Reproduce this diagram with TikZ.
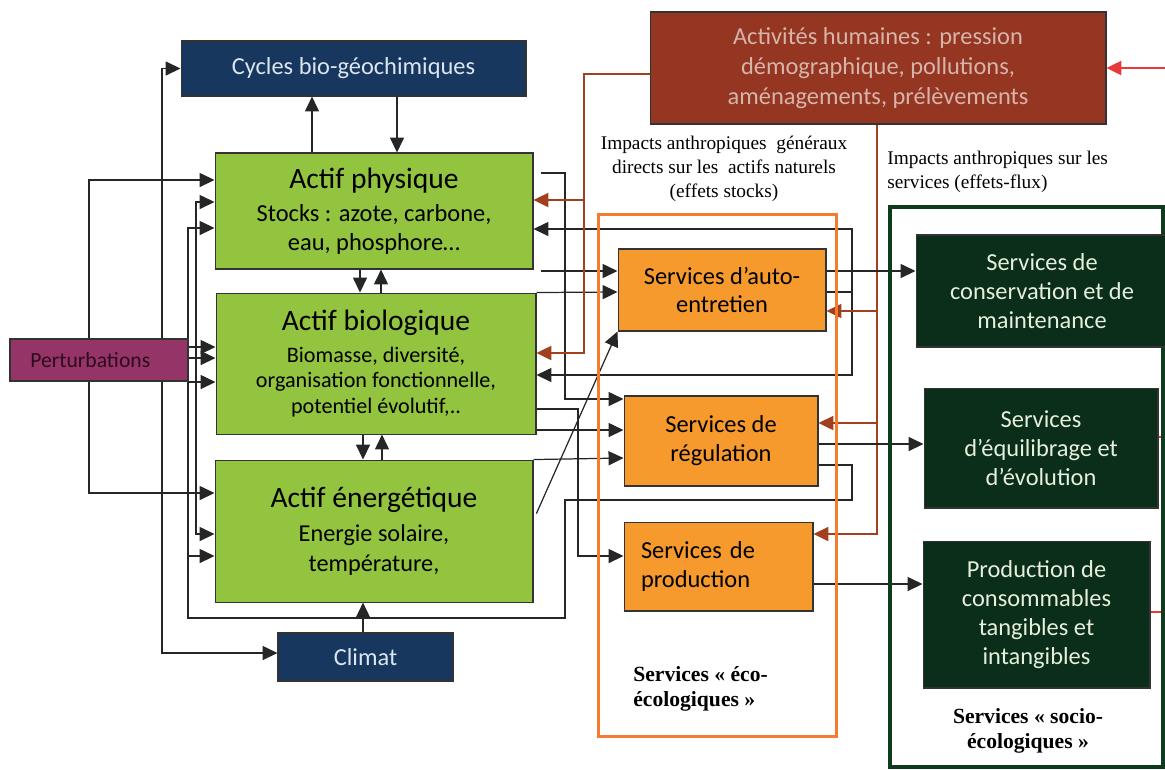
\documentclass[tikz,border=0pt]{standalone}
\usepackage{fontspec}
\setmainfont{Liberation Serif}
\newfontfamily\calib{Carlito}
\usetikzlibrary{positioning,arrows.meta,backgrounds}

\definecolor{cyclesblue}{HTML}{17375E}
\definecolor{lighttext}{HTML}{DCE6F2}
\definecolor{actifgreen}{HTML}{92C43F}
\definecolor{pertpurple}{HTML}{953567}
\definecolor{perttext}{HTML}{2E0A1D}
\definecolor{humanbrown}{HTML}{943621}
\definecolor{humantext}{HTML}{D6B4AA}
\definecolor{servorange}{HTML}{F79A2E}
\definecolor{ecoorange}{HTML}{F47B30}
\definecolor{sociogreen}{HTML}{0A2E19}
\definecolor{socioframe}{HTML}{0E3A1D}
\definecolor{sociotext}{HTML}{E6EEDC}
\definecolor{impactbrown}{HTML}{A0401F}
\definecolor{inputred}{HTML}{E8393A}

\newcommand{\bodysize}{\fontsize{13.9}{16.4}\selectfont}
\newcommand{\titlesize}{\fontsize{16.8}{16.4}\selectfont}

\tikzset{
	box/.style={draw=black!80, line width=0.6pt, inner sep=0pt, align=center, font=\calib\bodysize},
	actif/.style={box, fill=actifgreen},
	geobox/.style={box, fill=cyclesblue, text=lighttext},
	service/.style={box, fill=servorange},
	socio/.style={box, fill=sociogreen, text=sociotext},
	wire/.style={draw=black!85, line width=0.7pt},
	link/.style={wire, -{Triangle[length=8.5pt,width=8pt]}},
	impact/.style={draw=impactbrown, line width=1.2pt, -{Triangle[length=8.5pt,width=8pt]}},
	note/.style={inner sep=0pt, align=center, font=\fontsize{11}{13.6}\selectfont},
	grouplabel/.style={inner sep=0pt, align=left, font=\fontsize{12.3}{14.2}\selectfont\bfseries},
}

\begin{document}
\begin{tikzpicture}[x=0.02cm, y=-0.02cm]
	\useasboundingbox (0,0) rectangle (1165,769);

	\node[draw=ecoorange, line width=1.7pt, minimum width=4.78cm, minimum height=10.46cm] (eco) at (717.5,475.5) {};
	\node[draw=socioframe, line width=2.3pt, minimum width=5.46cm, minimum height=11.2cm] (sociofr) at (1026.5,487) {};

	\node[actif, minimum width=6.36cm, minimum height=2.32cm] (phys) at (374,211)
		{{\titlesize Actif physique}\\[2.3pt]Stocks : azote, carbone,\\eau, phosphore…};
	\node[actif, minimum width=6.4cm, minimum height=2.82cm, below=0.46cm of phys, xshift=0.04cm,
		font=\calib\fontsize{12.6}{14.7}\selectfont] (bio)
		{{\titlesize Actif biologique}\\[3.4pt]Biomasse, diversité,\\organisation fonctionnelle,\\potentiel évolutif,..};
	\node[actif, minimum width=6.36cm, minimum height=2.84cm, below=0.5cm of bio, xshift=-0.04cm,
		font=\calib\fontsize{13.8}{17}\selectfont] (ener)
		{{\titlesize Actif énergétique}\\[2.3pt]Energie solaire,\\température,};
	\node[geobox, minimum width=6.9cm, minimum height=1.1cm] (cycles) at (353.5,68.5) {Cycles bio-géochimiques};
	\node[geobox, minimum width=3.5cm, minimum height=0.96cm] (climat) at (365.5,657) {Climat};
	\node[box, fill=pertpurple, text=perttext, minimum width=3.56cm, minimum height=0.84cm,
		font=\calib\fontsize{12.3}{14}\selectfont] (pert) at (99,360) {Perturbations\hspace*{0.35cm}};
	\node[box, fill=humanbrown, text=humantext, minimum width=9.12cm, minimum height=2.24cm,
		font=\calib\fontsize{13.9}{17}\selectfont] (human) at (878,68)
		{Activités humaines : pression\\démographique, pollutions,\\aménagements, prélèvements};

	\node[service, minimum width=4.16cm, minimum height=1.64cm] (auto) at (722,290) {Services d’auto-\\entretien};
	\node[service, minimum width=3.88cm, minimum height=1.8cm] (regul) at (721,441) {Services de\\régulation};
	\node[service, minimum width=3.78cm, minimum height=1.78cm, text width=3.1cm, align=left] (prod) at (718.5,566.5) {Services de\\production};

	\node[socio, minimum width=5.04cm, minimum height=2.24cm] (conserv) at (1042,291) {Services de\\conservation et de\\maintenance};
	\node[socio, minimum width=4.68cm, minimum height=2.4cm] (equil) at (1041,448) {Services\\d’équilibrage et\\d’évolution};
	\node[socio, minimum width=4.54cm, minimum height=2.94cm] (conso) at (1036.5,614.5) {Production de\\consommables\\tangibles et\\intangibles};

	\node[note] (impgen) at (724,169) {Impacts anthropiques~~généraux\\directs sur les~~actifs naturels\\(effets stocks)};
	\node[note, align=left, anchor=west] (impserv) at (887,172) {Impacts anthropiques sur les\\services (effets-flux)};
	\node[grouplabel, anchor=west] (ecolabel) at (633,689) {Services « éco-\\écologiques »};
	\node[grouplabel, align=center] (sociolabel) at (1028,731) {Services « socio-\\écologiques »};

	\coordinate (pertbus) at (196,358);
	\coordinate (retour) at (188,618);
	\coordinate (autobus) at (852,292);
	\coordinate (humanbus) at (877,124);
	\coordinate (extin) at (1165,68);

	\begin{scope}[on background layer]
		\draw[link] (pert.north -| 89,0) |- (phys.west |- 0,180);
		\draw[link] (pert.south -| 89,0) |- (ener.west |- 0,493);
		\draw[link] (pert.north -| 162,0) |- (cycles.west);
		\draw[link] (pert.south -| 162,0) |- (climat.west |- 0,653);
		\draw[link] (pert.east |- 0,347) -- (bio.west |- 0,347);
		\draw[link] (pert.east |- pertbus) -- (bio.west |- pertbus);
		\draw[link] (pertbus) |- (phys.west |- 0,202);
		\draw[link] (pertbus) |- (ener.west |- 0,534);
		\draw[link] (regul.east |- 0,465) -| (852,500) -| (565,618) -- (retour) |- (phys.west |- 0,228);
		\draw[link] (retour |- 0,382) -- (bio.west |- 0,382);
		\draw[link] (retour |- 0,556) -- (ener.west |- 0,556);

		\draw[link] (phys.north -| 312,0) -- (cycles.south -| 312,0);
		\draw[link] (cycles.south -| 397,0) -- (phys.north -| 397,0);
		\draw[link] (phys.south -| 360,0) -- (bio.north -| 360,0);
		\draw[link] (bio.north -| 381,0) -- (phys.south -| 381,0);
		\draw[link] (bio.south -| 363,0) -- (ener.north -| 363,0);
		\draw[link] (ener.north -| 382,0) -- (bio.south -| 382,0);
		\draw[link] (climat.north -| 363,0) -- (ener.south -| 363,0);

		\draw[link, shorten <=4pt] (phys.east |- 0,173) -| (565,399) -- (regul.west |- 0,399);
		\draw[link, shorten <=4pt] (phys.east |- 0,271) -- (auto.west |- 0,271);
		\draw[link] (bio.north east) -- (auto.west |- autobus);
		\draw[link, shorten <=4pt] (ener.east |- 0,520) -- (auto.south west);
		\draw[link] ([xshift=-2pt]bio.east |- 0,409) -| (578,556) -- (prod.west |- 0,556);
		\draw[link] (bio.east |- 0,430) -- (regul.west |- 0,430);
		\draw[link] (ener.north east) -- (regul.west |- 0,458);
		\draw[link] (auto.east |- autobus) -| (852,229) -- (phys.east |- 0,229);
		\draw[link] (autobus) |- (bio.east |- 0,375);

		\draw[impact] (human.west |- 0,74) -| (584,200) -- (phys.east |- 0,200);
		\draw[impact] (584,200) |- (bio.east |- 0,353);
		\draw[impact] (humanbus) |- (prod.east |- 0,534);
		\draw[impact] (humanbus |- 0,311) -- (auto.east |- 0,311);
		\draw[impact] (humanbus |- 0,423) -- (regul.east |- 0,423);

		\draw[link] (auto.east |- 0,271) -- (conserv.west |- 0,271);
		\draw[link] (regul.east |- 0,444) -- (equil.west |- 0,444);
		\draw[link] (prod.east |- 0,584) -- (conso.west |- 0,584);

		\draw[inputred, line width=1.2pt, -{Triangle[length=8.5pt,width=8pt]}] (extin) -- (human.east);
		\draw[inputred, line width=1pt] (equil.east |- 0,437) -- (extin |- 0,437);
		\draw[inputred, line width=1pt] (conso.east |- 0,612) -- (extin |- 0,612);
	\end{scope}
\end{tikzpicture}
\end{document}
